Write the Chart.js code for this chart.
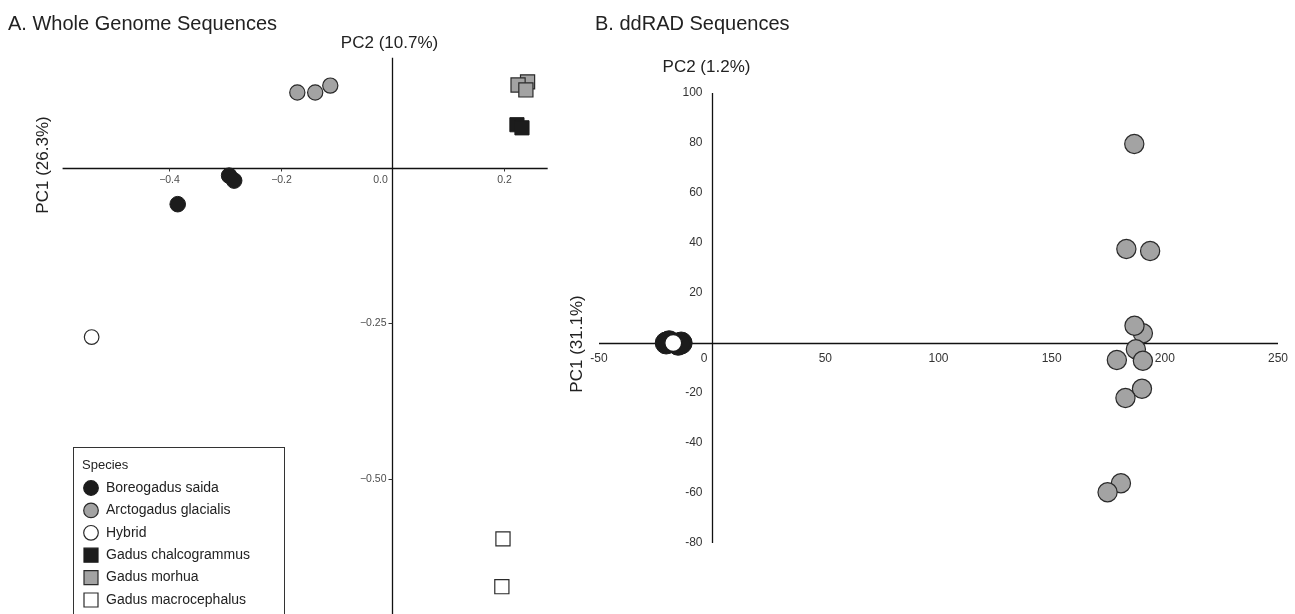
<!DOCTYPE html>
<html><head><meta charset="utf-8">
<script src="https://cdn.jsdelivr.net/npm/chart.js@4.4.1/dist/chart.umd.min.js"></script>
<style>
html,body{margin:0;padding:0;background:#fff;overflow:hidden;width:1295px;height:614px;}
#ca{position:absolute;left:0;top:0;}
#cb{position:absolute;left:560px;top:0;}
</style></head><body>
<canvas id="ca" width="560" height="614"></canvas>
<canvas id="cb" width="735" height="614"></canvas>
<script>
// ---------- DATA ----------
const speciesNames = ["Boreogadus saida","Arctogadus glacialis","Hybrid","Gadus chalcogrammus","Gadus morhua","Gadus macrocephalus"];

// Panel A: whole genome PCA (horizontal value, vertical value)
const wgsSaidaX = [-0.292, -0.283, -0.384];
const wgsSaidaY = [-0.012, -0.020, -0.058];
const wgsGlacialisX = [-0.170, -0.138, -0.111];
const wgsGlacialisY = [0.122, 0.122, 0.133];
const wgsHybridX = [-0.538];
const wgsHybridY = [-0.272];
const wgsChalcoX = [0.223, 0.232];
const wgsChalcoY = [0.070, 0.065];
const wgsMorhuaX = [0.242, 0.225, 0.239];
const wgsMorhuaY = [0.139, 0.134, 0.126];
const wgsMacroX = [0.198, 0.196];
const wgsMacroY = [-0.597, -0.674];
const wgsXTicks = [-0.4, -0.2, 0.0, 0.2];
const wgsXTickLabels = ["\u22120.4", "\u22120.2", "0.0", "0.2"];
const wgsYTicks = [-0.25, -0.50];
const wgsYTickLabels = ["\u22120.25", "\u22120.50"];

// Panel B: ddRAD PCA
const radSaidaX = [-20.3, -13.7, -19.0, -15.0];
const radSaidaY = [0.0, 0.0, 0.5, -0.5];
const radHybridX = [-17.2];
const radHybridY = [0.0];
const radGlacialisX = [186.5, 183.0, 193.5, 190.3, 186.6, 187.2, 178.8, 190.3, 189.9, 182.6, 180.6, 174.7];
const radGlacialisY = [79.6, 37.6, 36.8, 3.9, 6.9, -2.5, -6.8, -7.1, -18.3, -22.0, -56.1, -59.7];
const radXTicks = [-50, 0, 50, 100, 150, 200, 250];
const radYTicks = [100, 80, 60, 40, 20, -20, -40, -60, -80];

// ---------- HELPERS ----------
const FONT = '"Liberation Sans", Arial, Helvetica, sans-serif';
const BLACK = '#1c1c1c', GREY = '#a3a3a3', EDGE = '#2a2a2a';
const pts = (xs, ys) => xs.map((v, i) => ({x: v, y: ys[i]}));

function ds(label, xs, ys, style, fill, edge, r, order, bw) {
  return {label, data: pts(xs, ys), pointStyle: style, backgroundColor: fill,
    borderColor: edge, pointBackgroundColor: fill, pointBorderColor: edge,
    pointRadius: r, pointBorderWidth: bw, showLine: false, order};
}

// ---------- PANEL A ----------
const axesA = {
  id: 'axesA',
  beforeDatasetsDraw(chart) {
    const c = chart.ctx, xs = chart.scales.x, ys = chart.scales.y;
    const x0 = Math.round(xs.getPixelForValue(0)) + 0.5, y0 = Math.round(ys.getPixelForValue(0)) + 0.5;
    c.save();
    c.fillStyle = '#222';
    c.font = '20px ' + FONT; c.textAlign = 'left'; c.textBaseline = 'alphabetic';
    c.fillText('A. Whole Genome Sequences', 8, 30);
    c.font = '17px ' + FONT; c.textAlign = 'center'; c.textBaseline = 'middle';
    c.fillText('PC2 (10.7%)', x0 - 3, 43);
    c.save(); c.translate(43, 165); c.rotate(-Math.PI / 2);
    c.fillText('PC1 (26.3%)', 0, 0); c.restore();

    c.strokeStyle = '#111'; c.lineWidth = 1.3;
    c.beginPath(); c.moveTo(xs.getPixelForValue(-0.59), y0); c.lineTo(xs.getPixelForValue(0.278), y0); c.stroke();
    c.beginPath(); c.moveTo(x0, ys.getPixelForValue(0.178)); c.lineTo(x0, chart.height); c.stroke();

    c.font = '10.5px ' + FONT; c.fillStyle = '#4d4d4d'; c.strokeStyle = '#333'; c.lineWidth = 1;
    wgsXTicks.forEach((v, i) => {
      const px = Math.round(xs.getPixelForValue(v)) + 0.5;
      if (v !== 0) { c.beginPath(); c.moveTo(px, y0); c.lineTo(px, y0 + 3); c.stroke(); }
      c.textAlign = 'center'; c.textBaseline = 'top';
      c.fillText(wgsXTickLabels[i], v === 0 ? px - 12 : px, y0 + 6);
    });
    wgsYTicks.forEach((v, i) => {
      const py = Math.round(ys.getPixelForValue(v)) + 0.5;
      c.beginPath(); c.moveTo(x0 - 4, py); c.lineTo(x0, py); c.stroke();
      c.textAlign = 'right'; c.textBaseline = 'middle';
      c.fillText(wgsYTickLabels[i], x0 - 6, py);
    });
    c.restore();
  },
  afterDraw(chart) {
    const c = chart.ctx;
    c.save();
    const L = 73, T = 447, R = 284;
    c.fillStyle = '#fff'; c.fillRect(L, T, R - L, chart.height - T + 5);
    c.strokeStyle = '#333'; c.lineWidth = 1;
    c.strokeRect(L + 0.5, T + 0.5, R - L, chart.height - T + 10);
    c.fillStyle = '#222'; c.font = '13px ' + FONT; c.textAlign = 'left'; c.textBaseline = 'middle';
    c.fillText('Species', 82, 465);
    const order = [0, 1, 2, 3, 4, 5];
    const metaByLabel = {};
    chart.data.datasets.forEach(d => { metaByLabel[d.label] = d; });
    speciesNames.forEach((name, i) => {
      const d = metaByLabel[name];
      const cy = 488 + i * 22.4, cx = 91;
      c.fillStyle = d.pointBackgroundColor; c.strokeStyle = d.pointBorderColor; c.lineWidth = 1.2;
      c.beginPath();
      if (d.pointStyle === 'circle') c.arc(cx, cy, 7.3, 0, Math.PI * 2);
      else c.rect(cx - 7, cy - 7, 14, 14);
      c.fill(); c.stroke();
      c.fillStyle = '#222'; c.font = '14px ' + FONT;
      c.fillText(name, 106, cy);
    });
    c.restore();
  }
};

new Chart(document.getElementById('ca'), {
  type: 'scatter',
  data: {datasets: [
    ds(speciesNames[0], wgsSaidaX, wgsSaidaY, 'circle', BLACK, BLACK, 7.8, 1, 1),
    ds(speciesNames[1], wgsGlacialisX, wgsGlacialisY, 'circle', GREY, EDGE, 7.6, 2, 1.2),
    ds(speciesNames[2], wgsHybridX, wgsHybridY, 'circle', '#ffffff', EDGE, 7.3, 3, 1.2),
    ds(speciesNames[3], wgsChalcoX, wgsChalcoY, 'rect', BLACK, BLACK, 10, 4, 1),
    ds(speciesNames[4], wgsMorhuaX, wgsMorhuaY, 'rect', GREY, EDGE, 10, 5, 1.2),
    ds(speciesNames[5], wgsMacroX, wgsMacroY, 'rect', '#ffffff', EDGE, 10, 6, 1.2)
  ]},
  options: {
    responsive: false, animation: false, events: [],
    layout: {padding: {left: 57, right: 6, top: 44, bottom: 4}},
    scales: {
      x: {type: 'linear', min: -0.6, max: 0.28, display: false},
      y: {type: 'linear', min: -0.7, max: 0.2, display: false}
    },
    plugins: {legend: {display: false}, tooltip: {enabled: false}}
  },
  plugins: [axesA]
});

// ---------- PANEL B ----------
const axesB = {
  id: 'axesB',
  beforeDatasetsDraw(chart) {
    const c = chart.ctx, xs = chart.scales.x, ys = chart.scales.y;
    const x0 = Math.round(xs.getPixelForValue(0)) + 0.5, y0 = Math.round(ys.getPixelForValue(0)) + 0.5;
    c.save();
    c.fillStyle = '#222';
    c.font = '20px ' + FONT; c.textAlign = 'left'; c.textBaseline = 'alphabetic';
    c.fillText('B. ddRAD Sequences', 35, 30);
    c.font = '17px ' + FONT; c.textAlign = 'center'; c.textBaseline = 'middle';
    c.fillText('PC2 (1.2%)', x0 - 6, 67);
    c.save(); c.translate(17, 344); c.rotate(-Math.PI / 2);
    c.fillText('PC1 (31.1%)', 0, 0); c.restore();

    c.strokeStyle = '#111'; c.lineWidth = 1.3;
    c.beginPath(); c.moveTo(xs.getPixelForValue(-50), y0); c.lineTo(xs.getPixelForValue(250), y0); c.stroke();
    c.beginPath(); c.moveTo(x0, ys.getPixelForValue(100)); c.lineTo(x0, ys.getPixelForValue(-80)); c.stroke();

    c.font = '12px ' + FONT; c.fillStyle = '#333';
    radXTicks.forEach(v => {
      const px = xs.getPixelForValue(v);
      c.textAlign = 'center'; c.textBaseline = 'middle';
      c.fillText(String(v), v === 0 ? px - 8 : px, y0 + 15);
    });
    radYTicks.forEach(v => {
      const py = ys.getPixelForValue(v);
      c.textAlign = 'right'; c.textBaseline = 'middle';
      c.fillText(String(v), x0 - 10, py);
    });
    c.restore();
  }
};

new Chart(document.getElementById('cb'), {
  type: 'scatter',
  data: {datasets: [
    ds('Hybrid', radHybridX, radHybridY, 'circle', '#ffffff', BLACK, 8.5, 1, 1.5),
    ds('Boreogadus saida', radSaidaX, radSaidaY, 'circle', BLACK, BLACK, 11, 2, 1),
    ds('Arctogadus glacialis', radGlacialisX, radGlacialisY, 'circle', GREY, EDGE, 9.6, 3, 1.2)
  ]},
  options: {
    responsive: false, animation: false, events: [],
    layout: {padding: {left: 39, right: 17, top: 93, bottom: 71}},
    scales: {
      x: {type: 'linear', min: -50, max: 250, display: false},
      y: {type: 'linear', min: -80, max: 100, display: false}
    },
    plugins: {legend: {display: false}, tooltip: {enabled: false}}
  },
  plugins: [axesB]
});
</script>
</body></html>
